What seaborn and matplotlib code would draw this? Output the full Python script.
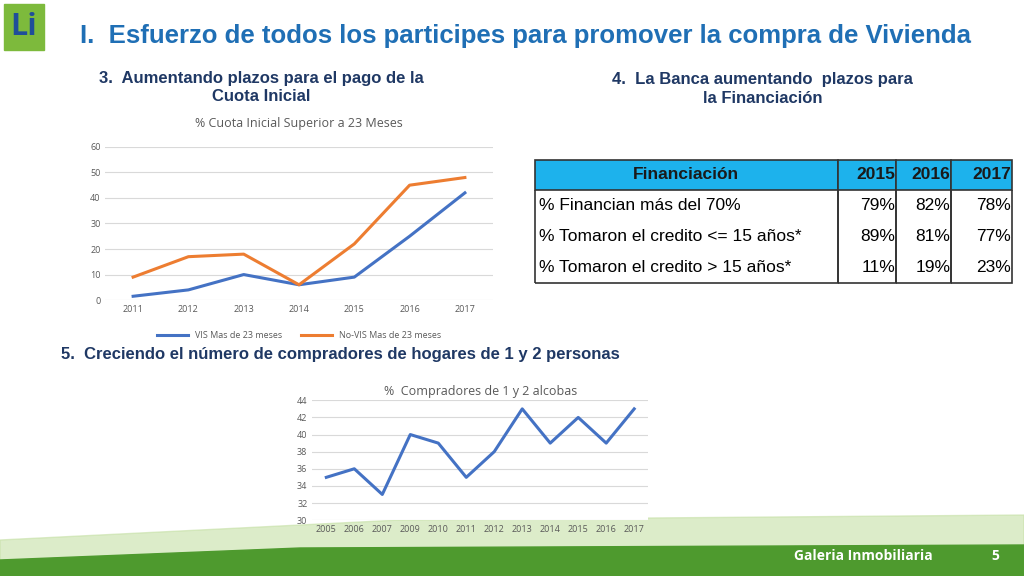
import matplotlib
matplotlib.use("Agg")
import matplotlib.pyplot as plt
import seaborn as sns
import pandas as pd
from matplotlib.patches import Polygon, Rectangle

# datos
anios_cuota = ["2011", "2012", "2013", "2014", "2015", "2016", "2017"]
vis = [1.5, 4, 10, 6, 9, 25, 42]
no_vis = [9, 17, 18, 6, 22, 45, 48]

anios_alcobas = ["2005", "2006", "2007", "2009", "2010", "2011", "2012",
                 "2013", "2014", "2015", "2016", "2017"]
alcobas = [35, 36, 33, 40, 39, 35, 38, 43, 39, 42, 39, 43]

tabla_cols = ["Financiación", "2015", "2016", "2017"]
tabla_filas = ["% Financian más del 70%", "% Tomaron el credito <= 15 años*",
               "% Tomaron el credito > 15 años*"]
tabla_vals = [["79%", "82%", "78%"], ["89%", "81%", "77%"], ["11%", "19%", "23%"]]

AZUL = "#4472C4"
NARANJA = "#ED7D31"
GRIS = "#595959"
TITULO = "#1F6FB5"
plt.rcParams["font.family"] = "Open Sans"

fig = plt.figure(figsize=(10.24, 5.76), dpi=100)

# fondo verde inferior
bg = fig.add_axes([0, 0, 1, 1], zorder=-5)
bg.set_xlim(0, 1024); bg.set_ylim(576, 0); bg.axis("off")
bg.add_patch(Polygon([[0, 576], [0, 540], [400, 520], [1024, 515], [1024, 576]],
                     color="#C5E0A5", alpha=0.6))
bg.add_patch(Polygon([[0, 576], [0, 560], [300, 548], [1024, 545], [1024, 576]],
                     color="#4E9A2E"))
bg.add_patch(Rectangle((4, 4), 40, 46, color="#7DBA3C"))
bg.text(24, 27, "Li", fontsize=22, fontweight="bold", color="#1F4E9A",
        ha="center", va="center")

fig.text(0.078, 0.937, "I.  Esfuerzo de todos los participes para promover la compra de Vivienda",
         fontsize=18.5, fontweight="bold", color=TITULO, va="center",
         fontfamily="Liberation Sans")
fig.text(0.255, 0.848, "3.  Aumentando plazos para el pago de la\nCuota Inicial",
         fontsize=12, fontweight="bold", color="#1F3864", ha="center", va="center",
         linespacing=1.3, fontfamily="Liberation Sans")
fig.text(0.745, 0.845, "4.  La Banca aumentando  plazos para\nla Financiación",
         fontsize=12, fontweight="bold", color="#1F3864", ha="center", va="center",
         linespacing=1.3, fontfamily="Liberation Sans")
fig.text(0.06, 0.385, "5.  Creciendo el número de compradores de hogares de 1 y 2 personas",
         fontsize=12, fontweight="bold", color="#1F3864", va="center",
         fontfamily="Liberation Sans")
fig.text(0.775, 0.035, "Galeria Inmobiliaria", fontsize=10, fontweight="bold",
         color="white", va="center")
fig.text(0.968, 0.035, "5", fontsize=10, fontweight="bold", color="white", va="center")

def estilo(ax, ymin, ymax, paso):
    ax.set_ylim(ymin, ymax)
    ax.set_yticks(range(ymin, ymax + 1, paso))
    ax.grid(axis="y", color="#D9D9D9", lw=0.8)
    ax.set_axisbelow(True)
    for s in ax.spines.values():
        s.set_visible(False)
    ax.tick_params(length=0, labelsize=6.5, labelcolor=GRIS)
    ax.set_xlabel(""); ax.set_ylabel("")

# grafico 1
ax1 = fig.add_axes([0.103, 0.479, 0.378, 0.266])
df1 = pd.DataFrame({"anio": anios_cuota * 2, "valor": vis + no_vis,
                    "serie": ["VIS Mas de 23 meses"] * 7 + ["No-VIS Mas de 23 meses"] * 7})
sns.lineplot(data=df1, x="anio", y="valor", hue="serie", sort=False,
             palette=[AZUL, NARANJA], lw=2.2, ax=ax1)
estilo(ax1, 0, 60, 10)
ax1.set_xlim(-0.5, 6.5)
ax1.set_title("% Cuota Inicial Superior a 23 Meses", fontsize=9, color=GRIS, pad=14)
ax1.legend(loc="upper center", bbox_to_anchor=(0.5, -0.15), ncol=2, frameon=False,
           fontsize=6.5, labelcolor=GRIS, handlelength=3.5)

# grafico 2
ax2 = fig.add_axes([0.305, 0.097, 0.328, 0.208])
df2 = pd.DataFrame({"anio": anios_alcobas, "valor": alcobas})
sns.lineplot(data=df2, x="anio", y="valor", sort=False, color=AZUL, lw=2.2, ax=ax2)
estilo(ax2, 30, 44, 2)
ax2.set_xlim(-0.5, 11.5)
ax2.set_title("%  Compradores de 1 y 2 alcobas", fontsize=9, color=GRIS, pad=4)

# tabla
ax3 = fig.add_axes([0.522, 0.509, 0.466, 0.214])
ax3.axis("off")
celdas = [[f] + v for f, v in zip(tabla_filas, tabla_vals)]
tb = ax3.table(cellText=celdas, colLabels=tabla_cols, bbox=[0, 0, 1, 1],
               colWidths=[0.635, 0.122, 0.116, 0.127])
tb.auto_set_font_size(False)
for (r, c), cell in tb.get_celld().items():
    cell.set_edgecolor("#333333")
    cell.set_linewidth(1.2)
    t = cell.get_text()
    t.set_fontsize(12.5)
    t.set_fontfamily("Liberation Sans")
    t.set_ha("left" if c == 0 else "right")
    cell.PAD = 0.015
    if r == 0:
        cell.visible_edges = "closed"
        cell.set_facecolor("#1DB2EC")
        t.set_fontweight("bold")
        t.set_color("#1A1A1A")
        if c == 0:
            t.set_ha("center")
    else:
        cell.visible_edges = "LRB" if r == 3 else "LR"

fig.savefig("out.png", dpi=100)
